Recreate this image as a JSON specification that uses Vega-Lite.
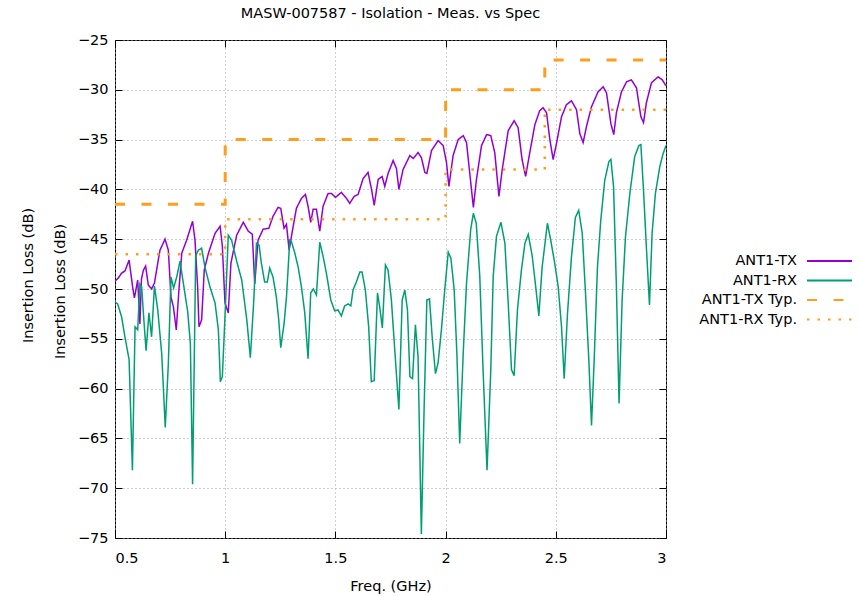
{
  "$schema": "https://vega.github.io/schema/vega-lite/v6.json",
  "autosize": "none",
  "width": 551,
  "height": 498,
  "padding": {"left": 115, "top": 40, "right": 194, "bottom": 58},
  "background": "white",
  "title": {"text": "MASW-007587 - Isolation - Meas. vs Spec", "frame": "group", "anchor": "middle", "fontSize": 14.5, "fontWeight": "normal", "font": "DejaVu Sans", "color": "black", "offset": 21, "baseline": "alphabetic", "dy": 21},
  "config": {
    "font": "DejaVu Sans",
    "view": {"stroke": "black", "strokeWidth": 1},
    "axis": {"labelFont": "DejaVu Sans", "labelFontSize": 14.5, "labelColor": "black", "titleFont": "DejaVu Sans", "titleFontSize": 14.5, "titleFontWeight": "normal", "titleColor": "black", "domain": false, "tickColor": "black", "tickSize": -7, "tickWidth": 1, "gridColor": "#a0a0a0", "gridDash": [1, 3], "gridWidth": 1},
    "legend": {"orient": "none", "legendX": 703.5, "legendY": 210, "labelFont": "DejaVu Sans", "labelFontSize": 14.5, "labelColor": "black", "labelAlign": "right", "labelOffset": -43.5, "symbolType": "M-2.25,0H2.25", "symbolSize": 400, "symbolStrokeWidth": 2, "symbolFillColor": "transparent", "rowPadding": 1.5, "padding": 0, "title": null}
  },
  "datasets": {
    "meas": [
      {"s":"ANT1-TX","f":0.500,"v":-49.2},{"s":"ANT1-TX","f":0.515,"v":-48.9},{"s":"ANT1-TX","f":0.530,"v":-48.4},{"s":"ANT1-TX","f":0.545,"v":-48.2},{"s":"ANT1-TX","f":0.564,"v":-47.1},{"s":"ANT1-TX","f":0.580,"v":-49.8},{"s":"ANT1-TX","f":0.588,"v":-50.9},{"s":"ANT1-TX","f":0.603,"v":-49.1},{"s":"ANT1-TX","f":0.613,"v":-53.5},{"s":"ANT1-TX","f":0.620,"v":-49.0},{"s":"ANT1-TX","f":0.629,"v":-48.1},{"s":"ANT1-TX","f":0.639,"v":-47.7},{"s":"ANT1-TX","f":0.651,"v":-49.6},{"s":"ANT1-TX","f":0.666,"v":-50.0},{"s":"ANT1-TX","f":0.679,"v":-49.4},{"s":"ANT1-TX","f":0.694,"v":-47.4},{"s":"ANT1-TX","f":0.704,"v":-46.1},{"s":"ANT1-TX","f":0.727,"v":-45.0},{"s":"ANT1-TX","f":0.742,"v":-46.1},{"s":"ANT1-TX","f":0.754,"v":-50.8},{"s":"ANT1-TX","f":0.765,"v":-51.8},{"s":"ANT1-TX","f":0.778,"v":-54.1},{"s":"ANT1-TX","f":0.790,"v":-50.1},{"s":"ANT1-TX","f":0.803,"v":-46.4},{"s":"ANT1-TX","f":0.825,"v":-45.1},{"s":"ANT1-TX","f":0.852,"v":-43.2},{"s":"ANT1-TX","f":0.863,"v":-45.1},{"s":"ANT1-TX","f":0.875,"v":-49.8},{"s":"ANT1-TX","f":0.881,"v":-53.8},{"s":"ANT1-TX","f":0.893,"v":-53.1},{"s":"ANT1-TX","f":0.905,"v":-48.1},{"s":"ANT1-TX","f":0.924,"v":-46.4},{"s":"ANT1-TX","f":0.954,"v":-44.4},{"s":"ANT1-TX","f":0.977,"v":-43.7},{"s":"ANT1-TX","f":0.987,"v":-45.7},{"s":"ANT1-TX","f":0.999,"v":-51.4},{"s":"ANT1-TX","f":1.014,"v":-52.4},{"s":"ANT1-TX","f":1.026,"v":-47.4},{"s":"ANT1-TX","f":1.052,"v":-44.6},{"s":"ANT1-TX","f":1.082,"v":-43.3},{"s":"ANT1-TX","f":1.105,"v":-44.2},{"s":"ANT1-TX","f":1.123,"v":-44.5},{"s":"ANT1-TX","f":1.134,"v":-49.5},{"s":"ANT1-TX","f":1.149,"v":-45.1},{"s":"ANT1-TX","f":1.172,"v":-44.0},{"s":"ANT1-TX","f":1.198,"v":-43.9},{"s":"ANT1-TX","f":1.217,"v":-42.7},{"s":"ANT1-TX","f":1.240,"v":-41.8},{"s":"ANT1-TX","f":1.252,"v":-41.9},{"s":"ANT1-TX","f":1.267,"v":-43.9},{"s":"ANT1-TX","f":1.278,"v":-43.5},{"s":"ANT1-TX","f":1.290,"v":-46.1},{"s":"ANT1-TX","f":1.303,"v":-44.4},{"s":"ANT1-TX","f":1.323,"v":-41.9},{"s":"ANT1-TX","f":1.346,"v":-40.9},{"s":"ANT1-TX","f":1.364,"v":-40.5},{"s":"ANT1-TX","f":1.376,"v":-41.7},{"s":"ANT1-TX","f":1.388,"v":-43.3},{"s":"ANT1-TX","f":1.399,"v":-42.0},{"s":"ANT1-TX","f":1.414,"v":-42.0},{"s":"ANT1-TX","f":1.429,"v":-44.2},{"s":"ANT1-TX","f":1.444,"v":-41.7},{"s":"ANT1-TX","f":1.467,"v":-40.4},{"s":"ANT1-TX","f":1.482,"v":-40.4},{"s":"ANT1-TX","f":1.500,"v":-40.8},{"s":"ANT1-TX","f":1.527,"v":-40.3},{"s":"ANT1-TX","f":1.550,"v":-40.9},{"s":"ANT1-TX","f":1.565,"v":-41.4},{"s":"ANT1-TX","f":1.585,"v":-40.7},{"s":"ANT1-TX","f":1.603,"v":-40.5},{"s":"ANT1-TX","f":1.626,"v":-38.9},{"s":"ANT1-TX","f":1.648,"v":-38.3},{"s":"ANT1-TX","f":1.664,"v":-40.0},{"s":"ANT1-TX","f":1.676,"v":-41.6},{"s":"ANT1-TX","f":1.694,"v":-39.0},{"s":"ANT1-TX","f":1.712,"v":-38.7},{"s":"ANT1-TX","f":1.724,"v":-39.7},{"s":"ANT1-TX","f":1.739,"v":-38.4},{"s":"ANT1-TX","f":1.762,"v":-37.1},{"s":"ANT1-TX","f":1.777,"v":-37.9},{"s":"ANT1-TX","f":1.788,"v":-40.0},{"s":"ANT1-TX","f":1.807,"v":-38.0},{"s":"ANT1-TX","f":1.838,"v":-36.6},{"s":"ANT1-TX","f":1.853,"v":-36.9},{"s":"ANT1-TX","f":1.875,"v":-36.3},{"s":"ANT1-TX","f":1.890,"v":-36.8},{"s":"ANT1-TX","f":1.906,"v":-38.3},{"s":"ANT1-TX","f":1.915,"v":-38.4},{"s":"ANT1-TX","f":1.936,"v":-36.1},{"s":"ANT1-TX","f":1.966,"v":-35.1},{"s":"ANT1-TX","f":1.989,"v":-35.6},{"s":"ANT1-TX","f":2.004,"v":-37.3},{"s":"ANT1-TX","f":2.015,"v":-39.7},{"s":"ANT1-TX","f":2.034,"v":-36.6},{"s":"ANT1-TX","f":2.057,"v":-35.0},{"s":"ANT1-TX","f":2.080,"v":-34.6},{"s":"ANT1-TX","f":2.095,"v":-35.3},{"s":"ANT1-TX","f":2.114,"v":-39.3},{"s":"ANT1-TX","f":2.126,"v":-41.8},{"s":"ANT1-TX","f":2.140,"v":-39.0},{"s":"ANT1-TX","f":2.163,"v":-35.6},{"s":"ANT1-TX","f":2.186,"v":-34.5},{"s":"ANT1-TX","f":2.205,"v":-34.6},{"s":"ANT1-TX","f":2.223,"v":-36.3},{"s":"ANT1-TX","f":2.242,"v":-40.7},{"s":"ANT1-TX","f":2.257,"v":-38.0},{"s":"ANT1-TX","f":2.284,"v":-34.1},{"s":"ANT1-TX","f":2.311,"v":-33.1},{"s":"ANT1-TX","f":2.329,"v":-33.8},{"s":"ANT1-TX","f":2.347,"v":-37.0},{"s":"ANT1-TX","f":2.363,"v":-38.7},{"s":"ANT1-TX","f":2.382,"v":-36.3},{"s":"ANT1-TX","f":2.405,"v":-33.5},{"s":"ANT1-TX","f":2.427,"v":-32.1},{"s":"ANT1-TX","f":2.442,"v":-31.8},{"s":"ANT1-TX","f":2.458,"v":-32.3},{"s":"ANT1-TX","f":2.473,"v":-35.0},{"s":"ANT1-TX","f":2.488,"v":-37.0},{"s":"ANT1-TX","f":2.503,"v":-35.4},{"s":"ANT1-TX","f":2.526,"v":-32.7},{"s":"ANT1-TX","f":2.548,"v":-31.5},{"s":"ANT1-TX","f":2.571,"v":-31.1},{"s":"ANT1-TX","f":2.594,"v":-32.0},{"s":"ANT1-TX","f":2.609,"v":-34.4},{"s":"ANT1-TX","f":2.624,"v":-35.3},{"s":"ANT1-TX","f":2.639,"v":-33.7},{"s":"ANT1-TX","f":2.662,"v":-31.7},{"s":"ANT1-TX","f":2.692,"v":-30.2},{"s":"ANT1-TX","f":2.715,"v":-29.7},{"s":"ANT1-TX","f":2.730,"v":-30.3},{"s":"ANT1-TX","f":2.750,"v":-33.4},{"s":"ANT1-TX","f":2.763,"v":-34.5},{"s":"ANT1-TX","f":2.775,"v":-32.3},{"s":"ANT1-TX","f":2.798,"v":-30.2},{"s":"ANT1-TX","f":2.821,"v":-29.2},{"s":"ANT1-TX","f":2.843,"v":-29.0},{"s":"ANT1-TX","f":2.866,"v":-29.8},{"s":"ANT1-TX","f":2.886,"v":-32.7},{"s":"ANT1-TX","f":2.898,"v":-33.3},{"s":"ANT1-TX","f":2.911,"v":-31.3},{"s":"ANT1-TX","f":2.934,"v":-29.3},{"s":"ANT1-TX","f":2.964,"v":-28.7},{"s":"ANT1-TX","f":2.983,"v":-29.0},{"s":"ANT1-TX","f":3.000,"v":-29.6},
      {"s":"ANT1-RX","f":0.500,"v":-51.3},{"s":"ANT1-RX","f":0.512,"v":-51.5},{"s":"ANT1-RX","f":0.530,"v":-52.8},{"s":"ANT1-RX","f":0.545,"v":-54.8},{"s":"ANT1-RX","f":0.564,"v":-57.1},{"s":"ANT1-RX","f":0.579,"v":-68.2},{"s":"ANT1-RX","f":0.591,"v":-53.8},{"s":"ANT1-RX","f":0.603,"v":-54.1},{"s":"ANT1-RX","f":0.613,"v":-49.5},{"s":"ANT1-RX","f":0.621,"v":-49.8},{"s":"ANT1-RX","f":0.630,"v":-52.8},{"s":"ANT1-RX","f":0.641,"v":-56.2},{"s":"ANT1-RX","f":0.654,"v":-52.4},{"s":"ANT1-RX","f":0.666,"v":-54.8},{"s":"ANT1-RX","f":0.679,"v":-49.7},{"s":"ANT1-RX","f":0.694,"v":-52.1},{"s":"ANT1-RX","f":0.712,"v":-56.5},{"s":"ANT1-RX","f":0.728,"v":-63.9},{"s":"ANT1-RX","f":0.742,"v":-57.5},{"s":"ANT1-RX","f":0.754,"v":-48.8},{"s":"ANT1-RX","f":0.766,"v":-49.9},{"s":"ANT1-RX","f":0.780,"v":-48.8},{"s":"ANT1-RX","f":0.795,"v":-47.2},{"s":"ANT1-RX","f":0.810,"v":-49.4},{"s":"ANT1-RX","f":0.830,"v":-52.3},{"s":"ANT1-RX","f":0.842,"v":-55.5},{"s":"ANT1-RX","f":0.852,"v":-69.6},{"s":"ANT1-RX","f":0.866,"v":-46.7},{"s":"ANT1-RX","f":0.878,"v":-46.1},{"s":"ANT1-RX","f":0.893,"v":-45.9},{"s":"ANT1-RX","f":0.908,"v":-47.8},{"s":"ANT1-RX","f":0.931,"v":-49.8},{"s":"ANT1-RX","f":0.954,"v":-51.4},{"s":"ANT1-RX","f":0.969,"v":-54.1},{"s":"ANT1-RX","f":0.978,"v":-59.3},{"s":"ANT1-RX","f":0.987,"v":-58.8},{"s":"ANT1-RX","f":0.999,"v":-52.8},{"s":"ANT1-RX","f":1.014,"v":-44.6},{"s":"ANT1-RX","f":1.029,"v":-45.1},{"s":"ANT1-RX","f":1.052,"v":-47.2},{"s":"ANT1-RX","f":1.075,"v":-49.1},{"s":"ANT1-RX","f":1.098,"v":-53.1},{"s":"ANT1-RX","f":1.114,"v":-56.9},{"s":"ANT1-RX","f":1.129,"v":-51.4},{"s":"ANT1-RX","f":1.142,"v":-45.4},{"s":"ANT1-RX","f":1.154,"v":-45.6},{"s":"ANT1-RX","f":1.164,"v":-47.4},{"s":"ANT1-RX","f":1.179,"v":-49.3},{"s":"ANT1-RX","f":1.191,"v":-49.3},{"s":"ANT1-RX","f":1.202,"v":-47.9},{"s":"ANT1-RX","f":1.217,"v":-48.8},{"s":"ANT1-RX","f":1.232,"v":-50.8},{"s":"ANT1-RX","f":1.243,"v":-53.1},{"s":"ANT1-RX","f":1.252,"v":-55.9},{"s":"ANT1-RX","f":1.267,"v":-53.5},{"s":"ANT1-RX","f":1.278,"v":-50.8},{"s":"ANT1-RX","f":1.293,"v":-45.1},{"s":"ANT1-RX","f":1.300,"v":-45.2},{"s":"ANT1-RX","f":1.316,"v":-46.4},{"s":"ANT1-RX","f":1.331,"v":-47.8},{"s":"ANT1-RX","f":1.346,"v":-49.8},{"s":"ANT1-RX","f":1.361,"v":-52.4},{"s":"ANT1-RX","f":1.376,"v":-57.0},{"s":"ANT1-RX","f":1.388,"v":-50.4},{"s":"ANT1-RX","f":1.400,"v":-50.0},{"s":"ANT1-RX","f":1.414,"v":-50.6},{"s":"ANT1-RX","f":1.429,"v":-45.3},{"s":"ANT1-RX","f":1.444,"v":-46.7},{"s":"ANT1-RX","f":1.459,"v":-48.4},{"s":"ANT1-RX","f":1.479,"v":-51.1},{"s":"ANT1-RX","f":1.497,"v":-52.2},{"s":"ANT1-RX","f":1.512,"v":-52.1},{"s":"ANT1-RX","f":1.527,"v":-52.7},{"s":"ANT1-RX","f":1.542,"v":-51.7},{"s":"ANT1-RX","f":1.558,"v":-51.5},{"s":"ANT1-RX","f":1.570,"v":-51.7},{"s":"ANT1-RX","f":1.580,"v":-50.1},{"s":"ANT1-RX","f":1.595,"v":-49.3},{"s":"ANT1-RX","f":1.611,"v":-48.3},{"s":"ANT1-RX","f":1.621,"v":-48.3},{"s":"ANT1-RX","f":1.636,"v":-50.1},{"s":"ANT1-RX","f":1.651,"v":-53.8},{"s":"ANT1-RX","f":1.663,"v":-59.3},{"s":"ANT1-RX","f":1.676,"v":-59.2},{"s":"ANT1-RX","f":1.691,"v":-50.4},{"s":"ANT1-RX","f":1.701,"v":-51.8},{"s":"ANT1-RX","f":1.713,"v":-53.9},{"s":"ANT1-RX","f":1.727,"v":-47.6},{"s":"ANT1-RX","f":1.739,"v":-48.1},{"s":"ANT1-RX","f":1.754,"v":-51.1},{"s":"ANT1-RX","f":1.769,"v":-56.0},{"s":"ANT1-RX","f":1.788,"v":-62.1},{"s":"ANT1-RX","f":1.803,"v":-51.1},{"s":"ANT1-RX","f":1.815,"v":-50.1},{"s":"ANT1-RX","f":1.827,"v":-52.1},{"s":"ANT1-RX","f":1.838,"v":-58.8},{"s":"ANT1-RX","f":1.850,"v":-59.0},{"s":"ANT1-RX","f":1.863,"v":-53.6},{"s":"ANT1-RX","f":1.875,"v":-56.8},{"s":"ANT1-RX","f":1.890,"v":-74.6},{"s":"ANT1-RX","f":1.903,"v":-61.5},{"s":"ANT1-RX","f":1.915,"v":-51.1},{"s":"ANT1-RX","f":1.927,"v":-51.0},{"s":"ANT1-RX","f":1.939,"v":-54.8},{"s":"ANT1-RX","f":1.954,"v":-58.5},{"s":"ANT1-RX","f":1.966,"v":-57.4},{"s":"ANT1-RX","f":1.981,"v":-54.1},{"s":"ANT1-RX","f":1.996,"v":-50.1},{"s":"ANT1-RX","f":2.012,"v":-46.3},{"s":"ANT1-RX","f":2.024,"v":-46.9},{"s":"ANT1-RX","f":2.039,"v":-50.1},{"s":"ANT1-RX","f":2.051,"v":-56.4},{"s":"ANT1-RX","f":2.064,"v":-65.5},{"s":"ANT1-RX","f":2.080,"v":-56.4},{"s":"ANT1-RX","f":2.095,"v":-49.4},{"s":"ANT1-RX","f":2.114,"v":-44.0},{"s":"ANT1-RX","f":2.126,"v":-42.4},{"s":"ANT1-RX","f":2.139,"v":-43.4},{"s":"ANT1-RX","f":2.155,"v":-48.7},{"s":"ANT1-RX","f":2.170,"v":-58.1},{"s":"ANT1-RX","f":2.188,"v":-68.2},{"s":"ANT1-RX","f":2.205,"v":-58.1},{"s":"ANT1-RX","f":2.216,"v":-48.7},{"s":"ANT1-RX","f":2.231,"v":-44.7},{"s":"ANT1-RX","f":2.251,"v":-43.3},{"s":"ANT1-RX","f":2.269,"v":-45.4},{"s":"ANT1-RX","f":2.284,"v":-51.4},{"s":"ANT1-RX","f":2.299,"v":-58.1},{"s":"ANT1-RX","f":2.311,"v":-58.7},{"s":"ANT1-RX","f":2.326,"v":-52.1},{"s":"ANT1-RX","f":2.344,"v":-48.1},{"s":"ANT1-RX","f":2.360,"v":-45.4},{"s":"ANT1-RX","f":2.375,"v":-44.5},{"s":"ANT1-RX","f":2.393,"v":-46.7},{"s":"ANT1-RX","f":2.410,"v":-50.0},{"s":"ANT1-RX","f":2.423,"v":-52.7},{"s":"ANT1-RX","f":2.438,"v":-47.8},{"s":"ANT1-RX","f":2.462,"v":-43.4},{"s":"ANT1-RX","f":2.477,"v":-45.1},{"s":"ANT1-RX","f":2.495,"v":-47.4},{"s":"ANT1-RX","f":2.511,"v":-49.8},{"s":"ANT1-RX","f":2.526,"v":-53.8},{"s":"ANT1-RX","f":2.538,"v":-59.0},{"s":"ANT1-RX","f":2.553,"v":-52.5},{"s":"ANT1-RX","f":2.571,"v":-46.8},{"s":"ANT1-RX","f":2.589,"v":-42.8},{"s":"ANT1-RX","f":2.604,"v":-42.1},{"s":"ANT1-RX","f":2.620,"v":-44.4},{"s":"ANT1-RX","f":2.635,"v":-50.5},{"s":"ANT1-RX","f":2.650,"v":-57.2},{"s":"ANT1-RX","f":2.662,"v":-63.7},{"s":"ANT1-RX","f":2.674,"v":-57.2},{"s":"ANT1-RX","f":2.689,"v":-47.8},{"s":"ANT1-RX","f":2.704,"v":-43.1},{"s":"ANT1-RX","f":2.722,"v":-39.1},{"s":"ANT1-RX","f":2.741,"v":-37.2},{"s":"ANT1-RX","f":2.750,"v":-37.0},{"s":"ANT1-RX","f":2.762,"v":-39.7},{"s":"ANT1-RX","f":2.775,"v":-49.8},{"s":"ANT1-RX","f":2.787,"v":-61.5},{"s":"ANT1-RX","f":2.801,"v":-51.1},{"s":"ANT1-RX","f":2.816,"v":-44.8},{"s":"ANT1-RX","f":2.836,"v":-40.4},{"s":"ANT1-RX","f":2.858,"v":-36.7},{"s":"ANT1-RX","f":2.877,"v":-35.6},{"s":"ANT1-RX","f":2.886,"v":-35.5},{"s":"ANT1-RX","f":2.898,"v":-40.1},{"s":"ANT1-RX","f":2.911,"v":-45.8},{"s":"ANT1-RX","f":2.925,"v":-51.6},{"s":"ANT1-RX","f":2.937,"v":-44.4},{"s":"ANT1-RX","f":2.952,"v":-40.4},{"s":"ANT1-RX","f":2.972,"v":-37.7},{"s":"ANT1-RX","f":2.987,"v":-36.4},{"s":"ANT1-RX","f":3.000,"v":-35.6}
    ],
    "txspec": [
      {"s":"ANT1-TX Typ.","k":0,"f":0.5,"v":-41.5},{"s":"ANT1-TX Typ.","k":1,"f":1.0,"v":-41.5},{"s":"ANT1-TX Typ.","k":2,"f":1.0,"v":-35},{"s":"ANT1-TX Typ.","k":3,"f":2.0,"v":-35},{"s":"ANT1-TX Typ.","k":4,"f":2.0,"v":-30},{"s":"ANT1-TX Typ.","k":5,"f":2.45,"v":-30},{"s":"ANT1-TX Typ.","k":6,"f":2.45,"v":-27},{"s":"ANT1-TX Typ.","k":7,"f":3.0,"v":-27}
    ],
    "rxspec": [
      {"s":"ANT1-RX Typ.","k":0,"f":0.5,"v":-46.5},{"s":"ANT1-RX Typ.","k":1,"f":1.0,"v":-46.5},{"s":"ANT1-RX Typ.","k":2,"f":1.0,"v":-43},{"s":"ANT1-RX Typ.","k":3,"f":2.0,"v":-43},{"s":"ANT1-RX Typ.","k":4,"f":2.0,"v":-38},{"s":"ANT1-RX Typ.","k":5,"f":2.45,"v":-38},{"s":"ANT1-RX Typ.","k":6,"f":2.45,"v":-32},{"s":"ANT1-RX Typ.","k":7,"f":3.0,"v":-32}
    ]
  },
  "layer": [
    {
      "data": {"name": "meas"},
      "mark": {"type": "line", "clip": true, "strokeWidth": 1.5},
      "encoding": {
        "x": {"field": "f", "type": "quantitative", "scale": {"domain": [0.5, 3], "nice": false, "zero": false}, "axis": {"orient": "bottom", "values": [0.5, 1, 1.5, 2, 2.5, 3], "format": "~g", "grid": true, "labelPadding": 20, "title": "Freq. (GHz)", "titlePadding": 15}},
        "y": {"field": "v", "type": "quantitative", "scale": {"domain": [-75, -25], "nice": false, "zero": false}, "axis": {"orient": "left", "values": [-75, -70, -65, -60, -55, -50, -45, -40, -35, -30, -25], "grid": true, "labelPadding": 14, "title": "Insertion Loss (dB)", "titleX": -55, "titleY": 251, "titleBaseline": "middle", "titleAngle": 270}},
        "color": {"field": "s", "type": "nominal", "scale": {"domain": ["ANT1-TX", "ANT1-RX", "ANT1-TX Typ.", "ANT1-RX Typ."], "range": ["#9400d3", "#009e73", "#ff9d1e", "#ff9d1e"]}},
        "strokeDash": {"field": "s", "type": "nominal", "scale": {"domain": ["ANT1-TX", "ANT1-RX", "ANT1-TX Typ.", "ANT1-RX Typ."], "range": [[1, 0], [1, 0], [10, 16.5], [2.5, 8]]}}
      }
    },
    {
      "data": {"name": "txspec"},
      "mark": {"type": "line", "clip": true, "strokeWidth": 3},
      "encoding": {
        "x": {"field": "f", "type": "quantitative", "scale": {"domain": [0.5, 3], "nice": false, "zero": false}, "axis": {"orient": "top", "values": [0.5, 1, 1.5, 2, 2.5, 3], "labels": false, "grid": false, "title": null}},
        "y": {"field": "v", "type": "quantitative", "scale": {"domain": [-75, -25], "nice": false, "zero": false}, "axis": {"orient": "left", "labels": false, "ticks": false, "grid": false, "title": "Insertion Loss (dB)", "titleX": -87, "titleY": 235, "titleBaseline": "middle", "titleAngle": 270}},
        "order": {"field": "k", "type": "quantitative"},
        "color": {"field": "s", "type": "nominal", "scale": {"domain": ["ANT1-TX", "ANT1-RX", "ANT1-TX Typ.", "ANT1-RX Typ."], "range": ["#9400d3", "#009e73", "#ff9d1e", "#ff9d1e"]}},
        "strokeDash": {"field": "s", "type": "nominal", "scale": {"domain": ["ANT1-TX", "ANT1-RX", "ANT1-TX Typ.", "ANT1-RX Typ."], "range": [[1, 0], [1, 0], [10, 16.5], [2.5, 8]]}}
      }
    },
    {
      "data": {"name": "rxspec"},
      "mark": {"type": "line", "clip": true, "strokeWidth": 2.5},
      "encoding": {
        "x": {"field": "f", "type": "quantitative", "scale": {"domain": [0.5, 3], "nice": false, "zero": false}, "axis": null},
        "y": {"field": "v", "type": "quantitative", "scale": {"domain": [-75, -25], "nice": false, "zero": false}, "axis": {"orient": "right", "values": [-75, -70, -65, -60, -55, -50, -45, -40, -35, -30, -25], "labels": false, "grid": false, "title": null}},
        "order": {"field": "k", "type": "quantitative"},
        "color": {"field": "s", "type": "nominal", "scale": {"domain": ["ANT1-TX", "ANT1-RX", "ANT1-TX Typ.", "ANT1-RX Typ."], "range": ["#9400d3", "#009e73", "#ff9d1e", "#ff9d1e"]}},
        "strokeDash": {"field": "s", "type": "nominal", "scale": {"domain": ["ANT1-TX", "ANT1-RX", "ANT1-TX Typ.", "ANT1-RX Typ."], "range": [[1, 0], [1, 0], [10, 16.5], [2.5, 8]]}}
      }
    }
  ],
  "resolve": {"axis": {"x": "independent", "y": "independent"}}
}
